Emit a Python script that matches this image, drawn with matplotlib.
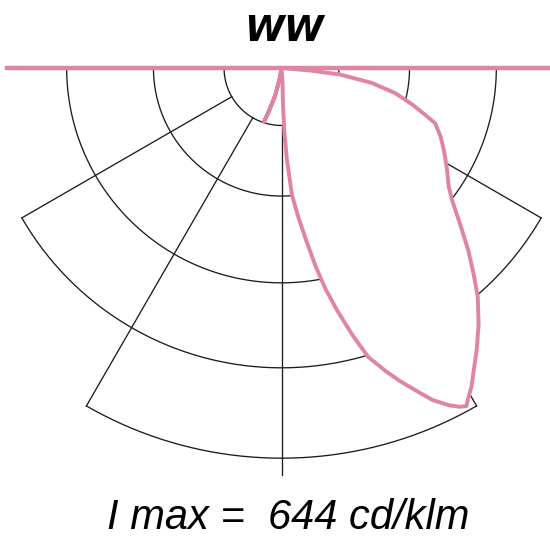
import numpy as np
import matplotlib.pyplot as plt

plane_name = 'WW'
imax = 644  # cd/klm

# small side lobe, angle from nadir in degrees (negative = left), intensity in cd/klm
spike_angle = [0, -10, -13, -18, -16, -13, -9, 0]
spike_cd = [0, 20, 50, 95, 75, 45, 15, 0]

# main lobe, traced from the centre down the inner edge, round the peak and back up
lobe_angle = [0, 3.8, 2.3, 2.6, 3.4, 4.7, 6.4, 8.1, 9.8, 11.2, 12.9, 14.8,
              16.7, 19.0, 20.7, 22.7, 24.5, 26.5, 27.8, 28.7, 29.3, 30.8, 32.5,
              34.7, 37.5, 40.6, 42.9, 45.7, 48.7, 52.3, 54.6, 58.8, 63.2, 66.8,
              70.2, 71.8, 74.3, 77.6, 80.6, 83.7, 85.0, 90]
lobe_cd = [0, 25, 62, 109, 154, 213, 250, 290, 337, 375, 415, 460,
           504, 536, 559, 585, 610, 630, 640, imax, 636, 620, 598,
           573, 541, 504, 472, 436, 398, 360, 343, 323, 304, 289,
           273, 254, 228, 194, 153, 98, 48, 0]

# grid rings (cd/klm) and the angular half-span each ring covers
ring_cd = [96, 214, 359, 501, 652]
ring_span = [90, 90, 90, 60, 30]
# radial lines: angle and how far out they run
ray_angle = [-60, -30, 0, 30, 60]
ray_end = [501, 652, 680, 652, 501]

pink = '#df85a4'
ink = '#1c1c1c'


def to_xy(angle, cd):
    a = np.radians(np.asarray(angle, dtype=float))
    cd = np.asarray(cd, dtype=float)
    return cd * np.sin(a), -cd * np.cos(a)


scale = 1.671  # cd/klm per pixel
cx, cy = 281.5, 68  # pole position in pixels from top-left
W, H = 550, 542

fig = plt.figure(figsize=(W / 100, H / 100), dpi=100)
ax = fig.add_axes([0, 0, 1, 1])
ax.set_xlim(-cx * scale, (W - cx) * scale)
ax.set_ylim(-(H - cy) * scale, cy * scale)
ax.axis('off')

# grid
for r, span in zip(ring_cd, ring_span):
    t = np.linspace(-span, span, 200)
    x, y = to_xy(t, np.full_like(t, r))
    ax.plot(x, y, color=ink, lw=0.95, zorder=1)
for ang, end in zip(ray_angle, ray_end):
    x, y = to_xy([ang, ang], [ring_cd[0], end])
    ax.plot(x, y, color=ink, lw=0.95, zorder=1)

# intensity curve, filled white so it hides the grid underneath
for angs, vals in [(spike_angle, spike_cd), (lobe_angle, lobe_cd)]:
    x, y = to_xy(angs, vals)
    ax.fill(x, y, color='white', zorder=2)
    ax.plot(x, y, color=pink, lw=2.8, zorder=3, solid_joinstyle='round')

ax.axhline(0, xmin=7 / W, xmax=1, color=pink, lw=3.2, zorder=4)

fig.text(284 / W, 1 - 31 / H, plane_name, ha='center', va='center',
         fontsize=26, style='italic', fontweight='bold',
         family=['Liberation Sans Narrow', 'DejaVu Sans'])
fig.text(288 / W, 1 - 518 / H, f'I max =  {imax} cd/klm', ha='center',
         va='center', fontsize=30, style='italic',
         family=['Liberation Sans', 'DejaVu Sans'])

fig.savefig('out.png', dpi=100, facecolor='white')
